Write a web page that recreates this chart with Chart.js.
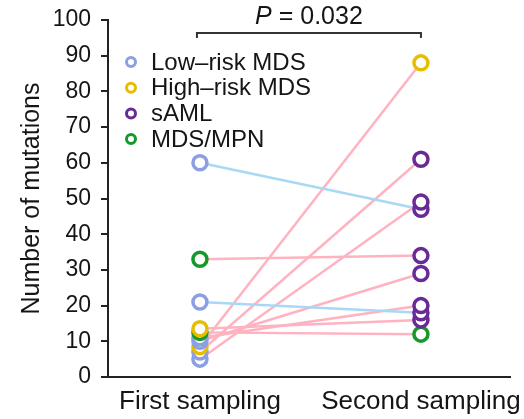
<!DOCTYPE html>
<html lang="en">
<head>
  <meta charset="UTF-8">
  <title>Number of mutations</title>
  <script src="https://cdn.jsdelivr.net/npm/chart.js"></script>
  <style>
    html, body { margin: 0; padding: 0; background: #fff; }
    #wrap { width: 524px; height: 419px; }
  </style>
</head>
<body>
  <div id="wrap"><canvas id="myChart" width="524" height="419"></canvas></div>

  <script>
    // data
    const categories = ['First sampling', 'Second sampling'];
    const firstValues  = [60, 21, 33, 13.5, 12.5, 11, 10, 8.5, 7, 5];
    const secondValues = [47, 18, 34, 16, 12, 20, 29, 88, 61, 49];
    const firstGroup   = ['low', 'low', 'mpn', 'high', 'mpn', 'low', 'low', 'high', 'low', 'low'];
    const secondGroup  = ['saml', 'saml', 'saml', 'saml', 'mpn', 'saml', 'saml', 'high', 'saml', 'saml'];
    const lineKind     = ['stay', 'stay', 'prog', 'prog', 'prog', 'prog', 'prog', 'prog', 'prog', 'prog'];
    const groupKeys    = ['low', 'high', 'saml', 'mpn'];
    const groupNames   = ['Low\u2013risk MDS', 'High\u2013risk MDS', 'sAML', 'MDS/MPN'];
    const yTicks       = [0, 10, 20, 30, 40, 50, 60, 70, 80, 90, 100];
    const pValueText   = '= 0.032';

    const groupColor = { low: '#8c9fe2', high: '#e8bd00', saml: '#692a97', mpn: '#14992a' };
    const lineColor = { stay: '#a9d8f6', prog: '#ffb3c1' };
    const FONT = "'Liberation Sans', Arial, sans-serif";
    const INK = '#151515';

    const datasets = [];
    firstValues.forEach(function(v, i) {
      datasets.push({
        type: 'line',
        data: [{ x: 0, y: v }, { x: 1, y: secondValues[i] }],
        borderColor: lineColor[lineKind[i]],
        borderWidth: 2.5,
        pointRadius: 0,
        order: 10
      });
    });

    function pointSet(values, groups, xPos) {
      const idx = values.map(function(v, i) { return i; })
        .sort(function(a, b) { return values[a] - values[b]; });
      return {
        type: 'scatter',
        data: idx.map(function(i) { return { x: xPos, y: values[i] }; }),
        pointBorderColor: idx.map(function(i) { return groupColor[groups[i]]; }),
        pointBackgroundColor: '#fff',
        pointRadius: 7,
        pointBorderWidth: 3.5,
        order: 1
      };
    }
    datasets.push(pointSet(firstValues, firstGroup, 0));
    datasets.push(pointSet(secondValues, secondGroup, 1));

    const extras = {
      id: 'extras',
      afterDraw: function(chart) {
        const c = chart.ctx;
        const xs = chart.scales.x;
        const x0 = xs.getPixelForValue(0) - 3;
        const x1 = xs.getPixelForValue(1);
        c.save();
        // bracket
        c.strokeStyle = '#333';
        c.lineWidth = 2;
        c.beginPath();
        c.moveTo(x0, 38); c.lineTo(x0, 33); c.lineTo(x1, 33); c.lineTo(x1, 38);
        c.stroke();
        // P value
        c.fillStyle = INK;
        c.textBaseline = 'middle';
        c.font = 'italic 25px ' + FONT;
        const pw = c.measureText('P ').width;
        c.font = '25px ' + FONT;
        const rw = c.measureText(pValueText).width;
        const start = (x0 + x1) / 2 - (pw + rw) / 2;
        c.font = 'italic 25px ' + FONT;
        c.fillText('P ', start, 17);
        c.font = '25px ' + FONT;
        c.fillText(pValueText, start + pw, 17);
        // legend
        c.font = '24px ' + FONT;
        groupKeys.forEach(function(k, i) {
          const y = 62 + i * 25.7;
          c.beginPath();
          c.arc(131, y, 4.5, 0, Math.PI * 2);
          c.strokeStyle = groupColor[k];
          c.lineWidth = 3;
          c.stroke();
          c.fillStyle = INK;
          c.fillText(groupNames[i], 151, y + 1);
        });
        c.restore();
      }
    };

    const ctx = document.getElementById('myChart').getContext('2d');
    const chart = new Chart(ctx, {
      data: { datasets: datasets },
      plugins: [extras],
      options: {
        responsive: false,
        animation: false,
        layout: { padding: { left: 0, right: 14, top: 20, bottom: 0 } },
        plugins: { legend: { display: false }, tooltip: { enabled: false } },
        scales: {
          x: {
            type: 'linear',
            min: -0.416,
            max: 1.403,
            afterBuildTicks: function(s) { s.ticks = categories.map(function(c, i) { return { value: i }; }); },
            afterFit: function(s) { s.height = 42; s.paddingLeft = 0; s.paddingRight = 0; },
            grid: { display: false, drawTicks: false },
            border: { display: true, color: '#222', width: 2 },
            ticks: {
              padding: 9,
              color: INK,
              font: { family: FONT, size: 26 },
              maxRotation: 0,
              autoSkip: false,
              callback: function(v) { return categories[v]; }
            }
          },
          y: {
            min: 0,
            max: 100,
            afterBuildTicks: function(s) { s.ticks = yTicks.map(function(v) { return { value: v }; }); },
            afterFit: function(s) { s.width = 108; s.paddingTop = 0; s.paddingBottom = 0; },
            grid: { drawOnChartArea: false, drawTicks: true, tickLength: 7, color: '#222', lineWidth: 2 },
            border: { display: true, color: '#222', width: 2 },
            ticks: {
              padding: 10,
              color: INK,
              font: { family: FONT, size: 23 }
            },
            title: {
              display: true,
              text: 'Number of mutations',
              color: INK,
              font: { family: FONT, size: 25 },
              padding: { top: 17, bottom: 0 }
            }
          }
        }
      }
    });
  </script>
</body>
</html>
